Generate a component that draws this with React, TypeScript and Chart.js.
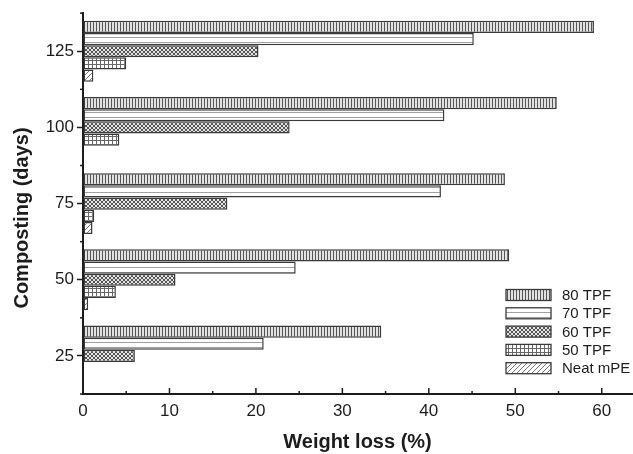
import React, { useEffect, useRef } from "react";
import { Chart, registerables } from "chart.js";

Chart.register(...registerables);

const categories = ["25", "50", "75", "100", "125"];
const seriesNames = ["80 TPF", "70 TPF", "60 TPF", "50 TPF", "Neat mPE"];
const tpf80 = [34.5, 49.3, 48.8, 54.8, 59.1];
const tpf70 = [20.9, 24.6, 41.4, 41.8, 45.2];
const tpf60 = [6.0, 10.7, 16.7, 23.9, 20.3];
const tpf50 = [0, 3.8, 1.3, 4.2, 5.0];
const neatMPE = [0, 0.6, 1.1, 0, 1.2];
const xTickValues = [0, 10, 20, 30, 40, 50, 60];
const xTitle = "Weight loss (%)";
const yTitle = "Composting (days)";

const FONT = "'Liberation Sans', Arial, sans-serif";
const INK = "#1c1c1c";
const BORDER = "#3a3a3a";

function makePattern(kind: string): CanvasPattern | string {
  const c = document.createElement("canvas");
  const g = c.getContext("2d");
  if (!g) return "#ccc";
  if (kind === "vertical") {
    c.width = 3; c.height = 3;
    g.fillStyle = "#e2e2e2"; g.fillRect(0, 0, 3, 3);
    g.fillStyle = "#555"; g.fillRect(0, 0, 1, 3);
  } else if (kind === "horizontal") {
    c.width = 5; c.height = 5;
    g.fillStyle = "#ffffff"; g.fillRect(0, 0, 5, 5);
    g.fillStyle = "#a0a0a0"; g.fillRect(0, 2, 5, 1);
  } else if (kind === "checker") {
    c.width = 4; c.height = 4;
    g.fillStyle = "#e4e4e4"; g.fillRect(0, 0, 4, 4);
    g.fillStyle = "#555";
    for (let i = 0; i < 4; i++) {
      g.fillRect(i, i, 1, 1);
      g.fillRect(3 - i, i, 1, 1);
    }
  } else if (kind === "grid") {
    c.width = 4; c.height = 4;
    g.fillStyle = "#ffffff"; g.fillRect(0, 0, 4, 4);
    g.fillStyle = "#666"; g.fillRect(0, 0, 1, 4); g.fillRect(0, 0, 4, 1);
  } else {
    c.width = 5; c.height = 5;
    g.fillStyle = "#ffffff"; g.fillRect(0, 0, 5, 5);
    g.strokeStyle = "#777"; g.lineWidth = 1;
    g.beginPath(); g.moveTo(0, 5); g.lineTo(5, 0); g.stroke();
    g.beginPath(); g.moveTo(-1, 1); g.lineTo(1, -1); g.stroke();
    g.beginPath(); g.moveTo(4, 6); g.lineTo(6, 4); g.stroke();
  }
  const p = g.createPattern(c, "repeat");
  return p || "#ccc";
}

const decorPlugin = {
  id: "decor",
  afterDraw(chart: any) {
    const { ctx, chartArea, scales } = chart;
    const x = scales.x;
    const y = scales.y;
    ctx.save();
    ctx.strokeStyle = INK;
    ctx.lineWidth = 1.5;
    for (let v = 0; v <= x.max + 1e-9; v += 5) {
      const px = x.getPixelForValue(v);
      const len = v % 10 === 0 ? 6 : 3;
      ctx.beginPath();
      ctx.moveTo(px, chartArea.bottom);
      ctx.lineTo(px, chartArea.bottom - len);
      ctx.stroke();
    }
    for (let i = 0; i <= categories.length; i++) {
      const py = y.getPixelForValue(i - 0.5);
      ctx.beginPath();
      ctx.moveTo(chartArea.left, py);
      ctx.lineTo(chartArea.left - 3, py);
      ctx.stroke();
    }
    ctx.fillStyle = INK;
    ctx.font = `bold 20px ${FONT}`;
    ctx.textAlign = "center";
    ctx.textBaseline = "middle";
    ctx.translate(22, 218);
    ctx.rotate(-Math.PI / 2);
    ctx.fillText(yTitle, 0, 0);
    ctx.restore();

    ctx.save();
    const datasets = chart.data.datasets;
    const boxX = 506, boxW = 45, boxH = 11, startY = 295, step = 18.3;
    ctx.font = `15px ${FONT}`;
    ctx.textBaseline = "middle";
    ctx.textAlign = "left";
    datasets.forEach((ds: any, i: number) => {
      const cy = startY + step * i;
      ctx.fillStyle = ds.backgroundColor;
      ctx.fillRect(boxX, cy - boxH / 2, boxW, boxH);
      ctx.strokeStyle = BORDER;
      ctx.lineWidth = 1.3;
      ctx.strokeRect(boxX, cy - boxH / 2, boxW, boxH);
      ctx.fillStyle = INK;
      ctx.fillText(ds.label, 562, cy + 1);
    });
    ctx.restore();
  },
};

export default function App() {
  const ref = useRef<HTMLCanvasElement | null>(null);
  useEffect(() => {
    if (!ref.current) return;
    const patterns = [
      makePattern("vertical"),
      makePattern("horizontal"),
      makePattern("checker"),
      makePattern("grid"),
      makePattern("diagonal"),
    ];
    const values = [tpf80, tpf70, tpf60, tpf50, neatMPE];
    const chart = new Chart(ref.current, {
      type: "bar",
      data: {
        labels: categories,
        datasets: seriesNames.map((name, i) => ({
          label: name,
          data: values[i],
          backgroundColor: patterns[i] as any,
          borderColor: BORDER,
          borderWidth: 1.5,
          borderSkipped: false,
          categoryPercentage: 0.8,
          barPercentage: 1.0,
        })),
      },
      options: {
        indexAxis: "y",
        responsive: false,
        animation: false,
        layout: { padding: { top: 12, right: 1, left: 0, bottom: 0 } },
        plugins: {
          legend: { display: false },
          tooltip: { enabled: false },
        },
        scales: {
          x: {
            type: "linear",
            min: 0,
            max: 63.5,
            afterFit: (s: any) => { s.height = 60; },
            afterBuildTicks: (s: any) => { s.ticks = xTickValues.map((v) => ({ value: v })); },
            ticks: {
              includeBounds: false,
              padding: 7,
              color: INK,
              font: { family: FONT, size: 17 },
            },
            grid: { display: true, drawOnChartArea: false, drawTicks: false },
            border: { display: true, color: INK, width: 2 },
            title: {
              display: true,
              text: xTitle,
              color: INK,
              font: { family: FONT, size: 20, weight: "bold" },
              padding: { top: 0, bottom: 0 },
            },
          },
          y: {
            type: "category",
            reverse: true,
            afterFit: (s: any) => { s.width = 83; },
            ticks: {
              padding: 3,
              color: INK,
              font: { family: FONT, size: 17 },
            },
            grid: {
              display: true,
              drawOnChartArea: false,
              drawTicks: true,
              tickLength: 6,
              tickWidth: 1.5,
              tickColor: INK,
              offset: false,
            },
            border: { display: true, color: INK, width: 2 },
          },
        },
      },
      plugins: [decorPlugin],
    });
    return () => chart.destroy();
  }, []);
  return (
    <div style={{ position: "absolute", left: 0, top: 0, width: 633, height: 454, background: "#fff" }}>
      <canvas ref={ref} width={633} height={454} />
    </div>
  );
}
